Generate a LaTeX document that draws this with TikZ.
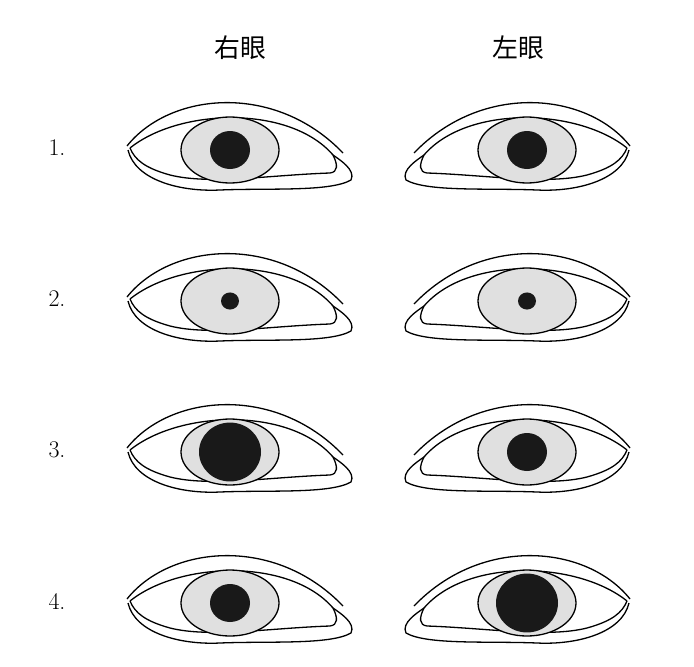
\documentclass[tikz,border=0pt]{standalone}
\usepackage{fontspec}
\newfontfamily\cjk{Noto Sans CJK SC}
\begin{document}
\begin{tikzpicture}[x=1bp,y=-1bp,
  ln/.style={line width=1.3bp,black},
  lbl/.style={font=\fontsize{24}{24}\selectfont},
  pics/eye/.style={code={
    \draw[ln] (-103,-4) .. controls (-60,-58) and (45,-68) .. (113,3);
    \draw[ln] (-100,-2) .. controls (-50,-42) and (60,-45) .. (103,5)
      .. controls (108,15) and (108,22) .. (100,23)
      .. controls (40,25) and (-20,35) .. (-60,25)
      .. controls (-85,18) and (-95,10) .. (-100,-2);
    \draw[ln] (-102,0) .. controls (-95,30) and (-50,42) .. (-10,40)
      .. controls (40,38) and (100,42) .. (121,30)
      .. controls (126,20) and (110,10) .. (103,5);
    \draw[ln,fill=black!12] (0,0) ellipse [x radius=49,y radius=33];
    \fill[black!90] (0,0) ellipse [x radius=#1,y radius=#1*0.95];
  }}]
\useasboundingbox (0,0) rectangle (694,667);
\node[font=\cjk\fontsize{26}{26}\selectfont] (hr) at (240,48) {右眼};
\node[font=\cjk\fontsize{26}{26}\selectfont] (hl) at (518,48) {左眼};
\foreach \r/\a/\b [count=\i] in {0/20/20,1/9/9,2/31/20,3/20/31}{
  \node[lbl] (n\i) at (57,148+151*\r) {\i.};
  \pic at (230,150+151*\r) {eye=\a};
  \pic[xscale=-1] at (527,150+151*\r) {eye=\b};
}
\end{tikzpicture}
\end{document}
